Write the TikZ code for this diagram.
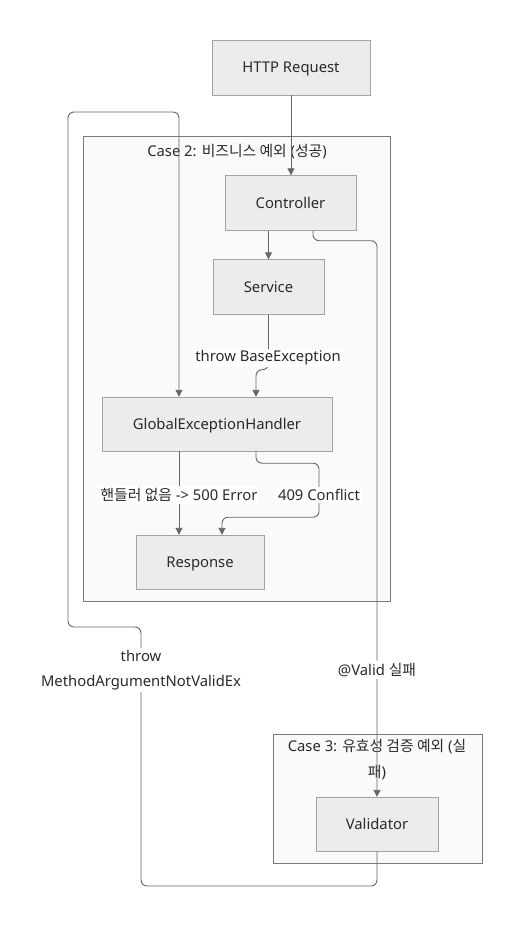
\documentclass[tikz,border=0pt]{standalone}
\usepackage{fontspec}
\setmainfont{Noto Sans}
\newfontfamily\kr{Noto Sans CJK KR}
\usetikzlibrary{positioning, arrows.meta}
\usepackage{xcolor}
\definecolor{NodeFill}   {HTML}{ECECEC}
\definecolor{NodeLine}   {HTML}{A3A3A3}
\definecolor{ClusterFill}{HTML}{FAFAFA}
\definecolor{ClusterLine}{HTML}{7A7A7A}
\definecolor{EdgeGray}   {HTML}{666666}
\definecolor{TextDark}   {HTML}{2A2A2A}
\tikzset{
  every node/.style={font=\fontsize{14.8}{18}\selectfont, text=TextDark},
  % boxes
  box/.style={draw=NodeLine, fill=NodeFill, minimum height=55pt,
              align=center, inner sep=3pt, text height=1.12em, text depth=0.1em},
  cluster/.style={draw=ClusterLine, fill=ClusterFill, inner sep=0pt},
  ctitle/.style={align=center, inner sep=1pt},
  % connectors
  flow/.style={draw=EdgeGray, line width=0.9pt, rounded corners=6pt,
               -{Triangle[length=7pt, width=7pt]}},
  lbl/.style={fill=white, inner sep=2pt, align=center},
}

\begin{document}
\begin{tikzpicture}[x=1pt, y=-1pt]
\useasboundingbox (0,0) rectangle (521,928);

% clusters
\node[cluster, minimum width=307pt, minimum height=465pt] (case2) at (236.5,368.5) {};
\node[ctitle] (case2t) at (237,152) {Case 2: {\kr 비즈니스 예외} ({\kr 성공})};
\node[cluster, minimum width=209pt, minimum height=129pt] (case3) at (377.5,798.5) {};
\node[ctitle, font=\fontsize{14.8}{26}\selectfont] (case3t) at (377,760)
  {Case 3: {\kr 유효성 검증 예외} ({\kr 실}\\{\kr 패})};

% nodes
\node[box, minimum width=158pt] (req)  at (291,67.5)  {HTTP Request};
\node[box, minimum width=131pt] (ctrl) at (290.5,203) {Controller};
\node[box, minimum width=111pt] (svc)  at (268.5,287) {Service};
\node[box, minimum width=230pt, minimum height=54pt] (geh)  at (217,424) {GlobalExceptionHandler};
\node[box, minimum width=128pt, minimum height=54pt] (resp) at (200,562) {Response};
\node[box, minimum width=122pt, minimum height=54pt] (val)  at (377,824) {Validator};

% connectors
\draw[flow] (req.south) -- (req.south |- ctrl.north);
\draw[flow] (svc.north |- ctrl.south) -- (svc.north);
\draw[flow] (svc.south) -- ++(0,55) -| ([xshift=39pt]geh.north);
\draw[flow] ([xshift=22.5pt]ctrl.south) -- ++(0,10) -| (val.north);
\draw[flow] (val.south) |- (141,886) -- (141,627) -- (68,627) -- (68,112)
  -| ([xshift=-38pt]geh.north);
\draw[flow] ([xshift=-38pt]geh.south) -- ([xshift=-38pt]geh.south |- resp.north);
\draw[flow] ([xshift=39pt]geh.south) -- ++(0,12) -- ++(63,0) -- ++(0,54)
  -| ([xshift=22pt]resp.north);

% labels
\node[lbl] (lthrow)  at (268,358) {throw BaseException};
\node[lbl] (lvalid)  at (377,670) {@Valid {\kr 실패}};
\node[lbl, font=\fontsize{14.8}{25}\selectfont] (lmethod) at (141,670)
  {throw\\MethodArgumentNotValidEx};
\node[lbl] (l500)    at (179,495) {{\kr 핸들러 없음} -> 500 Error};
\node[lbl] (l409)    at (319,495) {409 Conflict};

\end{tikzpicture}
\end{document}
